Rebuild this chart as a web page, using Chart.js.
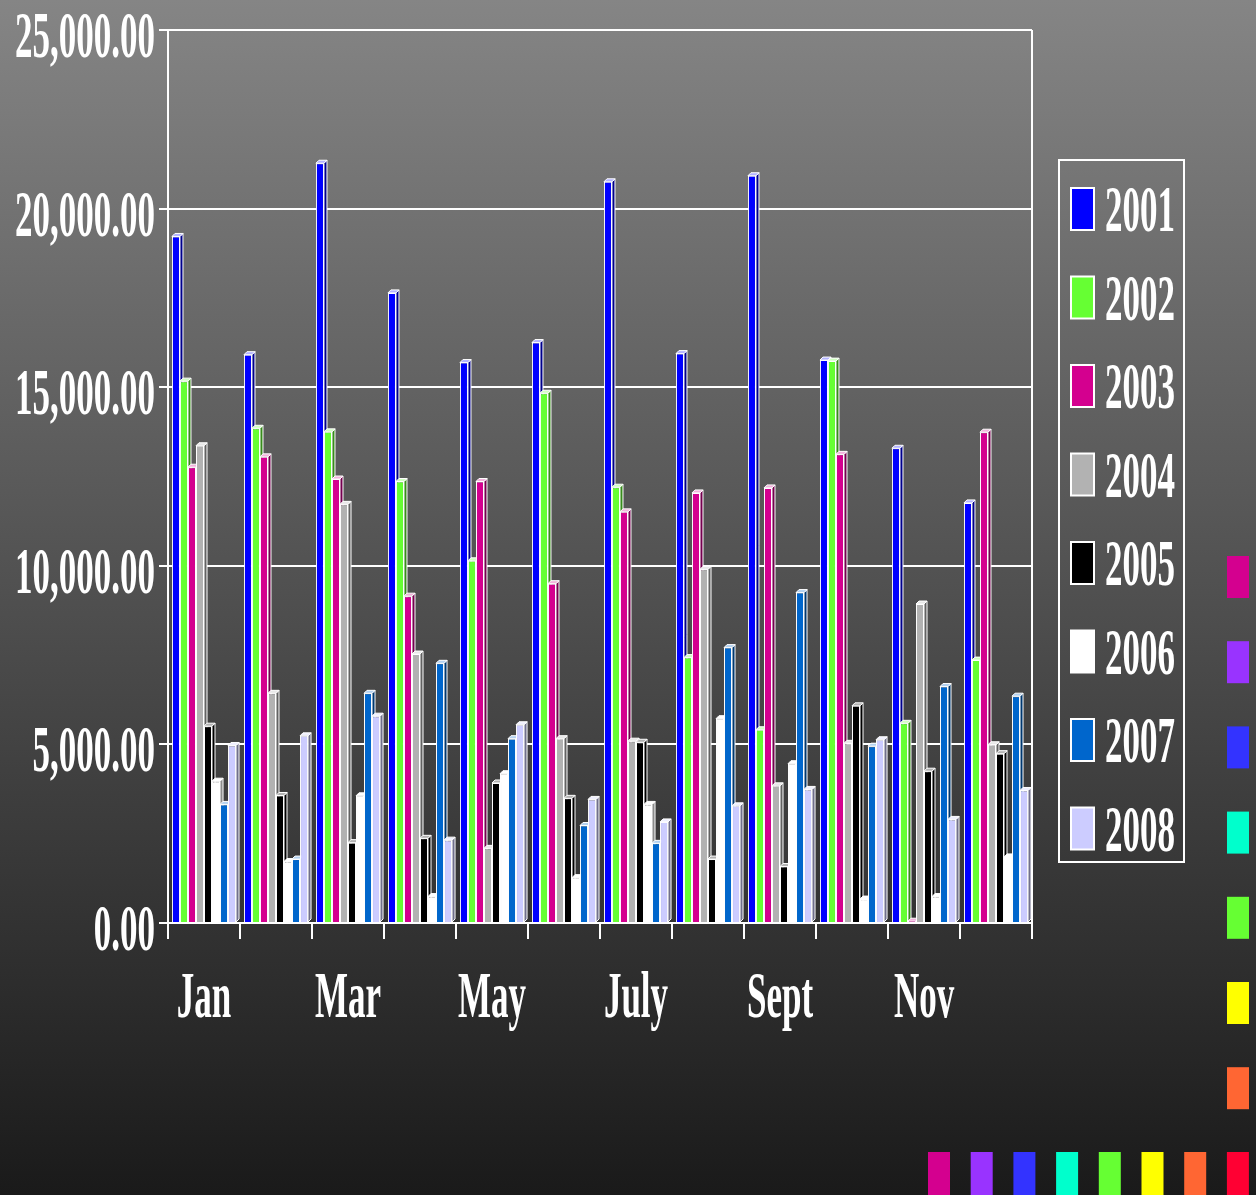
<!DOCTYPE html>
<html>
<head>
<meta charset="utf-8">
<script src="https://cdn.jsdelivr.net/npm/chart.js@4/dist/chart.umd.min.js"></script>
<style>
  html, body { margin: 0; padding: 0; background: #1a1a1a; }
  #wrap { width: 1256px; height: 1195px; }
</style>
</head>
<body>
<div id="wrap"><canvas id="chart" width="1256" height="1195"></canvas></div>
<script>
var months = ['Jan', 'Feb', 'Mar', 'Apr', 'May', 'June', 'July', 'Aug', 'Sept', 'Oct', 'Nov', 'Dec'];
var years = ['2001', '2002', '2003', '2004', '2005', '2006', '2007', '2008'];
var yTicks = [0, 5000, 10000, 15000, 20000, 25000];

var s2001 = [19220, 15910, 21270, 17640, 15690, 16250, 20750, 15940, 20920, 15760, 13290, 11760];
var s2002 = [15170, 13850, 13750, 12360, 10140, 14830, 12200, 7430, 5410, 15730, 5590, 7360];
var s2003 = [12760, 13050, 12430, 9150, 12360, 9500, 11510, 12040, 12180, 13120, 50, 13740];
var s2004 = [13360, 6430, 11720, 7530, 2090, 5160, 5090, 9900, 3840, 5030, 8930, 4990];
var s2005 = [5510, 3570, 2250, 2370, 3920, 3490, 5060, 1790, 1580, 6080, 4250, 4740];
var s2006 = [3970, 1720, 3560, 740, 4180, 1270, 3320, 5720, 4460, 670, 740, 1850];
var s2007 = [3320, 1790, 6430, 7270, 5160, 2730, 2230, 7710, 9250, 4950, 6620, 6350];
var s2008 = [4970, 5240, 5790, 2320, 5550, 3460, 2830, 3280, 3740, 5130, 2900, 3710];

var series = [s2001, s2002, s2003, s2004, s2005, s2006, s2007, s2008];
var colors = ['#0000ff', '#66ff33', '#d4008f', '#b2b2b2', '#000000', '#ffffff', '#0066cc', '#ccccff'];
var decoColors = ['#d4008f', '#9933ff', '#3333ff', '#00ffcc', '#66ff33', '#ffff00', '#ff6633', '#ff0033'];

var FONT = 'bold 66px "Liberation Serif", "Times New Roman", serif';
var SQUEEZE = 0.53;

function shade(hex, amt) {
  var n = parseInt(hex.slice(1), 16);
  var r = n >> 16, g = (n >> 8) & 255, b = n & 255;
  var f = function(c) {
    c = amt < 0 ? c * (1 + amt) : c + (255 - c) * amt;
    return Math.round(Math.max(0, Math.min(255, c)));
  };
  return 'rgb(' + f(r) + ',' + f(g) + ',' + f(b) + ')';
}

// narrow serif text, like the condensed font of the original
function squeezedText(ctx, text, x, y, align) {
  ctx.save();
  ctx.translate(x, y);
  ctx.scale(SQUEEZE, 1);
  ctx.font = FONT;
  ctx.fillStyle = '#ffffff';
  ctx.textAlign = align;
  ctx.textBaseline = 'alphabetic';
  ctx.fillText(text, 0, 0);
  ctx.restore();
}

var backdrop = {
  id: 'backdrop',
  beforeDraw: function(chart) {
    var ctx = chart.ctx;
    var g = ctx.createLinearGradient(0, 0, 0, chart.height);
    g.addColorStop(0, '#858585');
    g.addColorStop(1, '#1a1a1a');
    ctx.save();
    ctx.fillStyle = g;
    ctx.fillRect(0, 0, chart.width, chart.height);
    // decorative colour blocks at the right and bottom edges
    for (var i = 0; i < 7; i++) {
      ctx.fillStyle = decoColors[i];
      ctx.fillRect(1227, 556 + i * 85.2, 22, 42);
    }
    for (var j = 0; j < 8; j++) {
      ctx.fillStyle = decoColors[j];
      ctx.fillRect(928 + j * 42.7, 1152, 22, 43);
    }
    ctx.restore();
  }
};

var bars3d = {
  id: 'bars3d',
  beforeDatasetDraw: function() {
    return false;
  },
  afterDatasetsDraw: function(chart) {
    var ctx = chart.ctx;
    var d = 3;
    var area = chart.chartArea;
    ctx.save();
    ctx.beginPath();
    ctx.rect(area.left, area.top - 10, area.right - area.left + 10, area.bottom - area.top + 10);
    ctx.clip();
    for (var i = 0; i < series.length; i++) {
      var meta = chart.getDatasetMeta(i);
      meta.data.forEach(function(el) {
        var p = el.getProps(['x', 'y', 'base', 'width']);
        var L = p.x - p.width / 2, R = p.x + p.width / 2;
        ctx.lineWidth = 1;
        ctx.strokeStyle = '#ffffff';
        ctx.beginPath();
        ctx.moveTo(R, p.y);
        ctx.lineTo(R + d, p.y - d);
        ctx.lineTo(R + d, p.base - d);
        ctx.lineTo(R, p.base);
        ctx.closePath();
        ctx.fillStyle = shade(colors[i], -0.45);
        ctx.fill();
        ctx.stroke();
        ctx.beginPath();
        ctx.moveTo(L, p.y);
        ctx.lineTo(L + d, p.y - d);
        ctx.lineTo(R + d, p.y - d);
        ctx.lineTo(R, p.y);
        ctx.closePath();
        ctx.fillStyle = shade(colors[i], 0.7);
        ctx.fill();
        ctx.stroke();
        el.draw(ctx);
      });
    }
    ctx.restore();
  }
};

var labels = {
  id: 'labels',
  afterDraw: function(chart) {
    var ctx = chart.ctx;
    var area = chart.chartArea;
    var y = chart.scales.y, x = chart.scales.x;

    ctx.save();
    ctx.strokeStyle = '#ffffff';
    ctx.lineWidth = 2;
    ctx.beginPath();
    ctx.moveTo(area.right, area.top);
    ctx.lineTo(area.right, area.bottom);
    ctx.stroke();
    ctx.restore();

    yTicks.forEach(function(v) {
      var txt = v.toLocaleString('en-US', { minimumFractionDigits: 2, maximumFractionDigits: 2 });
      squeezedText(ctx, txt, 155, y.getPixelForValue(v) + 27, 'right');
    });
    months.forEach(function(m, i) {
      if (i % 2 === 0) {
        squeezedText(ctx, m, x.getPixelForValue(i), 1017, 'center');
      }
    });

    // legend box
    ctx.save();
    ctx.strokeStyle = '#ffffff';
    ctx.lineWidth = 2;
    ctx.strokeRect(1059, 160, 125, 702);
    years.forEach(function(yr, i) {
      var top = 188 + i * 88.5;
      ctx.fillStyle = colors[i];
      ctx.fillRect(1071, top, 23, 42);
      ctx.strokeRect(1071, top, 23, 42);
      squeezedText(ctx, yr, 1105, top + 43, 'left');
    });
    ctx.restore();
  }
};

var datasets = series.map(function(values, i) {
  return {
    label: years[i],
    data: values,
    backgroundColor: colors[i],
    borderColor: '#ffffff',
    borderWidth: 1,
    categoryPercentage: 0.89,
    barPercentage: 1.0
  };
});

new Chart(document.getElementById('chart'), {
  type: 'bar',
  data: { labels: months, datasets: datasets },
  options: {
    responsive: false,
    animation: false,
    layout: { padding: { top: 30, left: 0, right: 224, bottom: 0 } },
    plugins: { legend: { display: false }, tooltip: { enabled: false } },
    scales: {
      x: {
        afterFit: function(s) { s.height = 272; },
        ticks: { display: false },
        grid: { offset: true, drawOnChartArea: false, color: '#ffffff', lineWidth: 2, tickLength: 16 },
        border: { color: '#ffffff', width: 2 }
      },
      y: {
        min: 0,
        max: 25000,
        afterFit: function(s) { s.width = 168; },
        ticks: { display: false, stepSize: 5000 },
        grid: { color: '#ffffff', lineWidth: 2, tickLength: 9 },
        border: { color: '#ffffff', width: 2 }
      }
    }
  },
  plugins: [backdrop, bars3d, labels]
});
</script>
</body>
</html>
